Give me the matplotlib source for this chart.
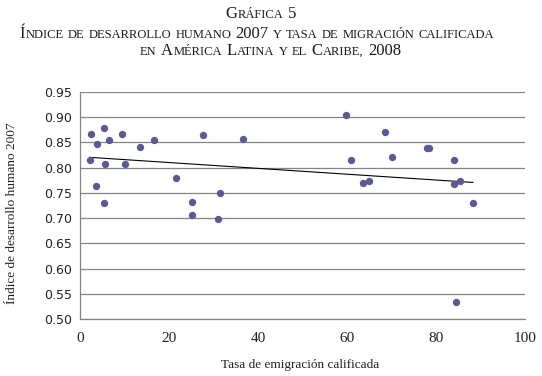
import numpy as np
import matplotlib
matplotlib.use("Agg")
import matplotlib.pyplot as plt

# ---- data ----
tasa_emigracion = [2.5, 5.3, 9.4, 3.8, 6.6, 13.4, 16.7, 27.6, 36.7, 2.2, 5.7, 10.2,
                   3.6, 21.5, 31.4, 5.4, 25.2, 25.2, 30.9,
                   59.8, 68.6, 77.9, 78.4, 61.0, 70.0, 84.0, 63.5, 64.9, 84.0, 85.5,
                   88.3, 84.6]
idh_2007 = [0.867, 0.878, 0.867, 0.846, 0.855, 0.841, 0.855, 0.865, 0.857, 0.815, 0.808, 0.808,
            0.763, 0.780, 0.749, 0.730, 0.732, 0.706, 0.699,
            0.905, 0.870, 0.838, 0.839, 0.815, 0.822, 0.815, 0.770, 0.773, 0.767, 0.773,
            0.730, 0.533]

x_ticks = [0, 20, 40, 60, 80, 100]
y_ticks = [0.50, 0.55, 0.60, 0.65, 0.70, 0.75, 0.80, 0.85, 0.90, 0.95]

title_lines = ["Gráfica 5",
               "Índice de desarrollo humano 2007 y tasa de migración calificada",
               "en América Latina y el Caribe, 2008"]
x_label = "Tasa de emigración calificada"
y_label = "Índice de desarrollo humano 2007"

W, H = 542, 376
fig = plt.figure(figsize=(W / 100, H / 100), dpi=100)
ax = fig.add_axes([80 / W, 1 - 319 / H, (525 - 80) / W, (319 - 92) / H])

grid_c = "#858585"
dot_c = "#5c5a96"

ax.scatter(tasa_emigracion, idh_2007, s=28, color=dot_c, zorder=3, linewidths=0)

# linear trend line
xs = np.array(tasa_emigracion)
ys = np.array(idh_2007)
b, a = np.polyfit(xs, ys, 1)
xl = np.array([xs.min(), xs.max()])
ax.plot(xl, a + b * xl, color="black", lw=0.8, zorder=2)

ax.set_xlim(0, 100)
ax.set_ylim(0.50, 0.95)
ax.set_xticks(x_ticks)
ax.set_yticks(y_ticks)
ax.set_yticklabels([f"{v:.2f}" for v in y_ticks], fontsize=9, family="DejaVu Sans", color="#222222")
ax.set_xticklabels([str(v) for v in x_ticks], fontsize=11, family="Liberation Serif", color="#222222")
ax.tick_params(length=0, pad=6)
ax.tick_params(axis="x", pad=9)
ax.grid(axis="y", color=grid_c, lw=0.9)
ax.set_axisbelow(True)
for s in ["top", "right"]:
    ax.spines[s].set_visible(False)
for s in ["left", "bottom"]:
    ax.spines[s].set_color(grid_c)
    ax.spines[s].set_linewidth(0.9)

fig.text(300 / W, 1 - 365 / H, x_label, ha="center", va="center",
         family="Liberation Serif", fontsize=9.5, color="#222222")
fig.text(12 / W, 1 - 213 / H, y_label, ha="center", va="center", rotation=90,
         family="Liberation Serif", fontsize=9.5, color="#222222")

# ---- small-caps title ----
renderer = fig.canvas.get_renderer()
BIG, SMALL = 12, 9
fam = "Liberation Serif"


def text_width(s, size):
    t = fig.text(0, 0, s, fontsize=size, family=fam)
    w = t.get_window_extent(renderer).width
    t.remove()
    return w


space_w = text_width("x x", SMALL) - text_width("xx", SMALL)


def runs(line):
    out = []
    for ch in line:
        if ch == " ":
            kind = "space"
        elif ch.isupper() or ch.isdigit():
            kind = "big"
        else:
            kind = "small"
        if out and out[-1][1] == kind:
            out[-1][0] += ch
        else:
            out.append([ch, kind])
    return out


centers = [261, 257, 271]
baselines = [18, 38, 55]
for line, cx, by in zip(title_lines, centers, baselines):
    rs = runs(line)
    items = []
    total = 0
    for s, kind in rs:
        if kind == "space":
            w = space_w * len(s) * 1.1
            items.append((None, None, w))
        else:
            size = BIG if kind == "big" else SMALL
            txt = s if kind == "big" else s.upper()
            w = text_width(txt, size) + 0.8
            items.append((txt, size, w))
        total += w
    x = cx - total / 2
    for txt, size, w in items:
        if txt is not None:
            fig.text(x / W, 1 - by / H, txt, fontsize=size, family=fam,
                     ha="left", va="baseline", color="#1a1a1a")
        x += w

fig.savefig("out.png", dpi=100)
